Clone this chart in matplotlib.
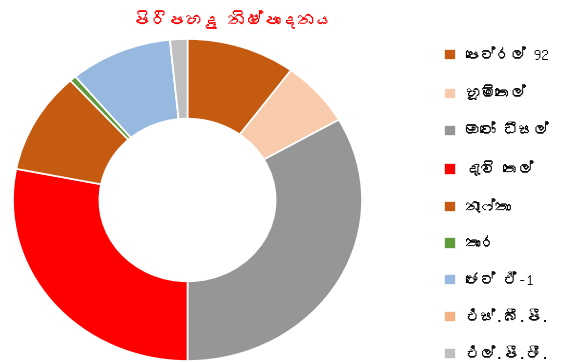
import matplotlib
matplotlib.use("Agg")
import matplotlib.pyplot as plt
from matplotlib import font_manager
from matplotlib.ft2font import FT2Font

# refinery output share by product (%)
products = ["පෙට්රල් 92", "භූමිතෙල්", "ඔටෝ ඩීසල්", "දැවි තෙල්", "නැෆ්තා",
            "තාර", "ජෙට් ඒ-1", "එස්.බී.පී.", "එල්.පී.ජී."]
shares = [10.1, 6.6, 33.3, 28.1, 10.2, 0.6, 9.5, 0.0, 1.6]
colors = ["#C55A11", "#F8CBAD", "#969696", "#FF0000", "#C55A11",
          "#609A3A", "#97B9E0", "#F4B183", "#BFBFBF"]
title = "පිරිපහදු නිෂ්පාදනය"


def find_sinhala_font():
    # pick any installed font that actually has Sinhala glyphs
    for f in font_manager.fontManager.ttflist:
        try:
            cmap = FT2Font(f.fname).get_charmap()
        except Exception:
            continue
        if 0x0DB4 in cmap and 0x0DD9 in cmap:
            return f.name
    return None


sin_font = find_sinhala_font()
families = ([sin_font] if sin_font else []) + ["Liberation Serif", "DejaVu Sans"]
plt.rcParams["font.family"] = families

fig = plt.figure(figsize=(5.69, 3.62), dpi=100)
ax = fig.add_axes([13 / 569, 1 / 362, 349 / 569, 322 / 362])

wedges, _ = ax.pie(shares, colors=colors, startangle=90, counterclock=False,
                   wedgeprops=dict(width=0.495, edgecolor="white", linewidth=1.2))
ax.set_aspect("auto")
ax.set_xlim(-1, 1)
ax.set_ylim(-1, 1)

fig.text(0.41, 0.945, title, color="#FF0000", fontsize=12.5, fontweight="bold",
         ha="center", va="center")

fig.legend(wedges, products, loc="upper left", bbox_to_anchor=(0.757, 0.906),
           frameon=False, fontsize=11, handlelength=0.75, handleheight=0.75,
           handletextpad=0.6, labelspacing=1.52)

fig.savefig("out.png", dpi=100)
